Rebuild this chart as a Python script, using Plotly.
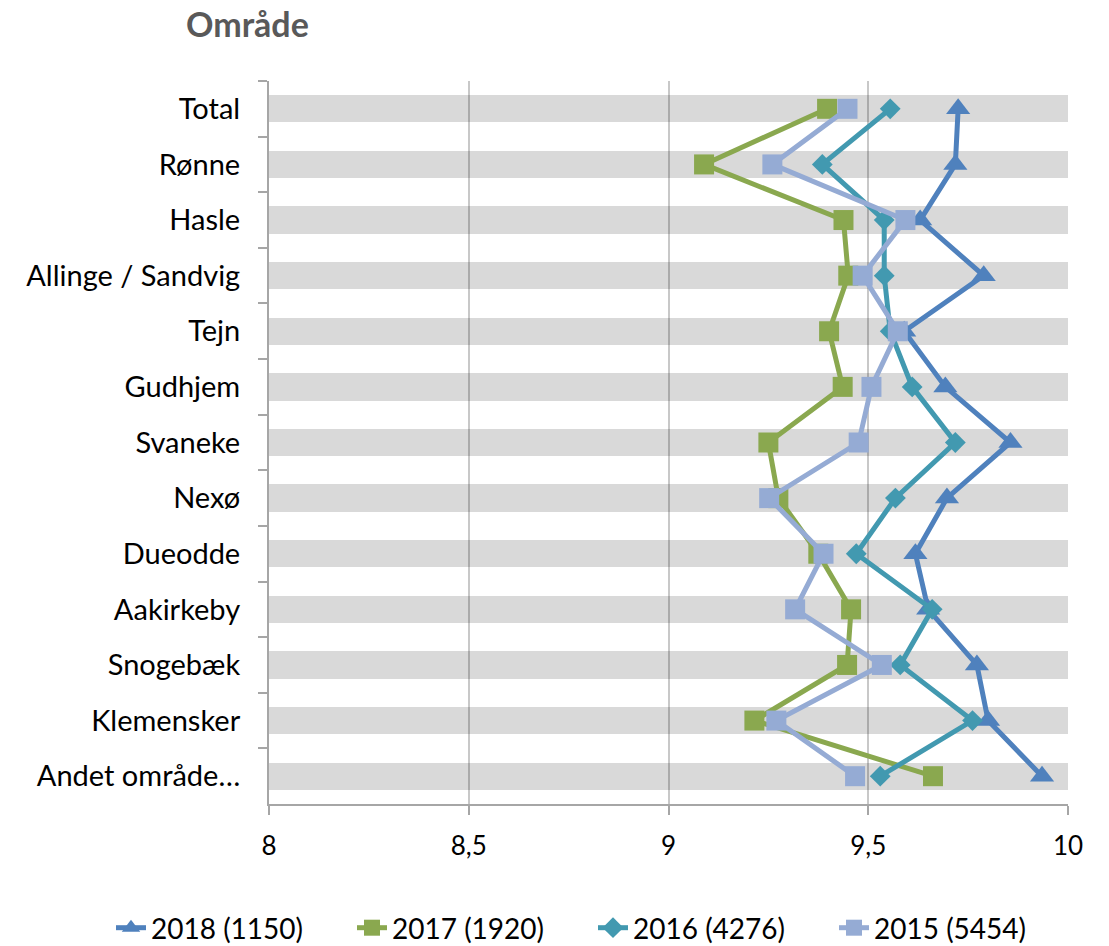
import plotly.graph_objects as go

categories = ["Total", "Rønne", "Hasle", "Allinge / Sandvig", "Tejn", "Gudhjem",
              "Svaneke", "Nexø", "Dueodde", "Aakirkeby", "Snogebæk", "Klemensker",
              "Andet område…"]

v2018 = [9.725, 9.718, 9.63, 9.789, 9.59, 9.693, 9.856, 9.697, 9.618, 9.65, 9.772, 9.80, 9.935]
v2017 = [9.397, 9.089, 9.438, 9.45, 9.402, 9.436, 9.25, 9.275, 9.375, 9.457, 9.447, 9.215, 9.662]
v2016 = [9.555, 9.385, 9.54, 9.54, 9.555, 9.61, 9.718, 9.568, 9.47, 9.66, 9.58, 9.761, 9.53]
v2015 = [9.448, 9.26, 9.593, 9.486, 9.574, 9.508, 9.476, 9.252, 9.388, 9.317, 9.534, 9.27, 9.467]

series_names = ["2018 (1150)", "2017 (1920)", "2016 (4276)", "2015 (5454)"]
series_vals = [v2018, v2017, v2016, v2015]
colors = ["#4f81bd", "#8aa84f", "#4299b0", "#95abd4"]
symbols = ["triangle-up", "square", "diamond", "square"]
sizes = [21, 20, 16, 20]

x_min, x_max = 8, 10
x_ticks = [8, 8.5, 9, 9.5, 10]

title_text = "Område"

font_family = "Lato, 'Open Sans', sans-serif"

# the page body has an 8px margin, so the figure is sized/positioned to compensate
W, H = 1101, 938
ML, MR, MT, MB = 261, 41, 73, 142
PW, PH = W - ML - MR, H - MT - MB

fig = go.Figure()

# background bands
fig.add_trace(go.Bar(
    y=categories, x=[x_max - x_min] * len(categories), base=[x_min] * len(categories),
    orientation="h", width=0.49,
    marker=dict(color="rgba(0,0,0,0.15)", line=dict(width=0)),
    showlegend=False, hoverinfo="skip",
))

for name, vals, c, sym, sz in zip(series_names, series_vals, colors, symbols, sizes):
    fig.add_trace(go.Scatter(
        x=vals, y=categories, mode="lines+markers", name=name,
        line=dict(color=c, width=5),
        marker=dict(symbol=sym, size=sz, color=c, line=dict(width=0)),
    ))

fig.add_annotation(
    text="<b>" + title_text + "</b>", showarrow=False,
    xref="paper", yref="paper",
    x=(176 - ML) / PW, xanchor="left",
    y=(MT + PH - 15) / PH, yanchor="middle",
    font=dict(family=font_family, size=34, color="#595959"),
)

fig.update_layout(
    width=W, height=H,
    margin=dict(l=ML, r=MR, t=MT, b=MB, autoexpand=False),
    plot_bgcolor="white", paper_bgcolor="white",
    separators=", ",
    font=dict(family=font_family, size=28, color="#000000"),
    showlegend=True,
    legend=dict(orientation="h", xref="paper", x=(103 - ML) / PW, xanchor="left",
                yref="paper", y=(MT + PH - 920) / PH, yanchor="middle",
                font=dict(family=font_family, size=28, color="#000000"),
                traceorder="normal", entrywidth=196, entrywidthmode="pixels"),
    bargap=0,
)

fig.update_xaxes(
    range=[x_min, x_max], tickvals=x_ticks, tickformat=".1~f",
    tickfont=dict(size=26),
    showgrid=True, gridcolor="#c8c8c8", gridwidth=2,
    showline=True, linecolor="#a6a6a6", linewidth=2,
    ticks="outside", ticklen=9, tickcolor="#a6a6a6", tickwidth=2,
    ticklabelstandoff=9, zeroline=False, mirror=False,
)
fig.update_yaxes(
    type="category", categoryorder="array", categoryarray=categories,
    range=[len(categories) - 0.5, -0.5], tickfont=dict(size=29),
    showgrid=False, showline=True, linecolor="#a6a6a6", linewidth=2,
    ticks="outside", ticklen=9, tickcolor="#a6a6a6", tickwidth=2,
    tickson="boundaries", ticklabelstandoff=21, zeroline=False,
)

fig.write_html("out.html")
